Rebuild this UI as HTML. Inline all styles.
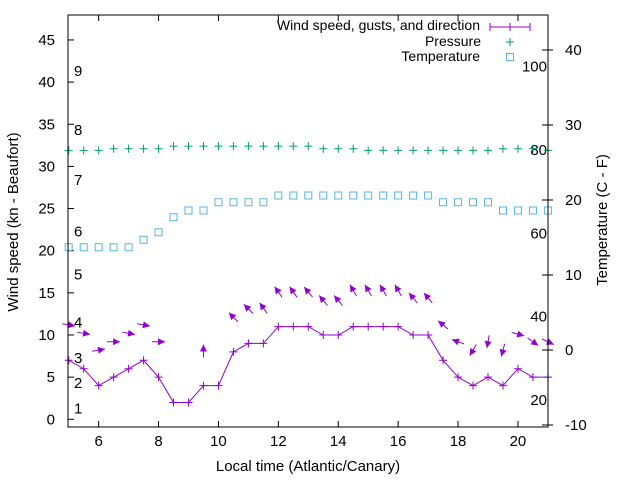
<!DOCTYPE html>
<html><head><meta charset="utf-8"><style>
body{margin:0;background:#fff}
svg{display:block;font-family:"Liberation Sans",sans-serif}
</style></head><body>
<svg id="c" width="640" height="480" viewBox="0 0 640 480"></svg>
<script>
const times=[5,5.5,6,6.5,7,7.5,8,8.5,9,9.5,10,10.5,11,11.5,12,12.5,13,13.5,14,14.5,15,15.5,16,16.5,17,17.5,18,18.5,19,19.5,20,20.5,21];
const windSpeed=[7,6,4,5,6,7,5,2,2,4,4,8,9,9,11,11,11,10,10,11,11,11,11,10,10,7,5,4,5,4,6,5,5];
const gusts=[11.2,10.2,8.2,9.2,10.2,11.2,9.2,null,null,8.1,null,12.1,13.1,13.2,15.1,15.1,15.1,14.1,14.1,15.3,15.3,15.3,15.3,14.4,14.4,11.2,9.2,8.2,9.2,8.2,10.1,9.2,9.2];
const windDir=[100,100,80,90,100,100,90,null,null,0,null,315,315,325,325,325,320,320,320,330,330,330,330,320,320,310,290,210,190,195,105,125,115];
const pressure=[31.9,31.9,31.9,32.1,32.1,32.1,32.1,32.4,32.4,32.4,32.4,32.4,32.4,32.4,32.4,32.4,32.4,32.1,32.1,32.1,31.9,31.9,31.9,31.9,31.9,31.9,31.9,31.9,31.9,32.1,32.1,32.1,31.9];
const tempC=[13.7,13.7,13.7,13.7,13.7,14.7,15.7,17.7,18.6,18.6,19.7,19.7,19.7,19.7,20.6,20.6,20.6,20.6,20.6,20.6,20.6,20.6,20.6,20.6,20.6,19.7,19.7,19.7,19.7,18.6,18.6,18.6,18.6];
const xTicks=[6,8,10,12,14,16,18,20];
const yTicks=[0,5,10,15,20,25,30,35,40,45];
const y2Ticks=[-10,0,10,20,30,40];
const fLabels=[20,40,60,80,100];
const beaufortNums=[1,2,3,4,5,6,7,8,9];
const beaufortPos=[1.3,4.3,7.3,11.5,17.2,22.3,28.4,34.3,41.3];

const L=68,R=548,T=15,B=427;
const X=t=>68.7+(t-5)*29.95;
const Y=v=>419.3-v*8.43;
const Y2=c=>350-c*7.5;
const svg=document.getElementById('c');
const NS='http://www.w3.org/2000/svg';
function mk(tag,a,p){const e=document.createElementNS(NS,tag);for(const k in a)e.setAttribute(k,a[k]);(p||svg).appendChild(e);return e;}
const purple='#9400d3',green='#009e73',blue='#56b4e9';

// ticks & labels
xTicks.forEach(t=>{
 let e=mk('line',{x1:X(t),x2:X(t),y1:B,y2:B-6,stroke:'#000'});
 
 e=mk('line',{x1:X(t),x2:X(t),y1:T,y2:T+6,stroke:'#000'});
 
 e=mk('text',{x:X(t),y:B+19,'text-anchor':'middle','font-size':15});e.textContent=t;
 
});
yTicks.forEach(v=>{
 let e=mk('line',{x1:L,x2:L+6,y1:Y(v),y2:Y(v),stroke:'#000'});
 
 e=mk('text',{x:L-13,y:Y(v)+5,'text-anchor':'end','font-size':15});e.textContent=v;
 
});
y2Ticks.forEach(c=>{
 let e=mk('line',{x1:R-6,x2:R+5,y1:Y2(c),y2:Y2(c),stroke:'#000'});
 
 e=mk('text',{x:R+17,y:Y2(c)+5,'font-size':15});e.textContent=c;
 
});
fLabels.forEach(f=>{
 const e=mk('text',{x:R-1,y:Y2((f-32)*5/9)+5,'text-anchor':'end','font-size':15});e.textContent=f;
 
});
beaufortNums.forEach((n,i)=>{
 const e=mk('text',{x:74,y:Y(beaufortPos[i])+5,'font-size':15});e.textContent=n;
 
});

// pressure
times.forEach((t,i)=>{
 const x=X(t),y=Y(pressure[i]);
 const e=mk('path',{d:`M${x-4},${y}h8M${x},${y-4}v8`,stroke:green,'stroke-width':1});
 
});
// temperature
times.forEach((t,i)=>{
 const x=X(t),y=Y2(tempC[i]);
 const e=mk('rect',{x:x-3.5,y:y-3.5,width:7,height:7,fill:'none',stroke:blue,'stroke-width':1});
 
});
// wind line
const pl=mk('polyline',{points:times.map((t,i)=>X(t)+','+Y(windSpeed[i])).join(' '),fill:'none',stroke:purple,'stroke-width':1});

times.forEach((t,i)=>{
 const x=X(t),y=Y(windSpeed[i]);
 const e=mk('path',{d:`M${x-4},${y}h8M${x},${y-4}v8`,stroke:purple});
 
});
// gust arrows
times.forEach((t,i)=>{
 if(gusts[i]==null)return;
 const cx=X(t),cy=Y(gusts[i]),a=windDir[i]*Math.PI/180;
 const dx=Math.sin(a),dy=-Math.cos(a),len=13;
 const x1=cx-dx*len/2,y1=cy-dy*len/2,x2=cx+dx*len/2,y2=cy+dy*len/2;
 const g=mk('g',{});
 
 mk('line',{x1,y1,x2,y2,stroke:purple,'stroke-width':1},g);
 const px=-dy,py=dx,hl=7,hw=3.5;
 const bx=x2-dx*hl,by=y2-dy*hl;
 mk('polygon',{points:`${x2},${y2} ${bx+px*hw},${by+py*hw} ${bx-px*hw},${by-py*hw}`,fill:purple},g);
});

// border
const bd=mk('rect',{x:L,y:T,width:R-L,height:B-T,fill:'none',stroke:'#000','stroke-width':1});


// legend
let e=mk('text',{x:480,y:30,'text-anchor':'end','font-size':14});e.textContent='Wind speed, gusts, and direction';

e=mk('path',{d:'M490,27h40M490,23v8M530,23v8M510,23v8',stroke:purple});

e=mk('text',{x:481,y:46,'text-anchor':'end','font-size':14});e.textContent='Pressure';

e=mk('path',{d:'M506,42h8M510,38v8',stroke:green});

e=mk('text',{x:480,y:61,'text-anchor':'end','font-size':14});e.textContent='Temperature';

e=mk('rect',{x:506.5,y:53.5,width:7,height:7,fill:'none',stroke:blue});


// axis titles
e=mk('text',{x:0,y:0,'text-anchor':'middle','font-size':15,transform:'translate(18,222) rotate(-90)'});e.textContent='Wind speed (kn - Beaufort)';

e=mk('text',{x:0,y:0,'text-anchor':'middle','font-size':15,transform:'translate(607,220) rotate(-90)'});e.textContent='Temperature (C - F)';

e=mk('text',{x:308,y:471,'text-anchor':'middle','font-size':15});e.textContent='Local time (Atlantic/Canary)';

</script>
</body></html>
